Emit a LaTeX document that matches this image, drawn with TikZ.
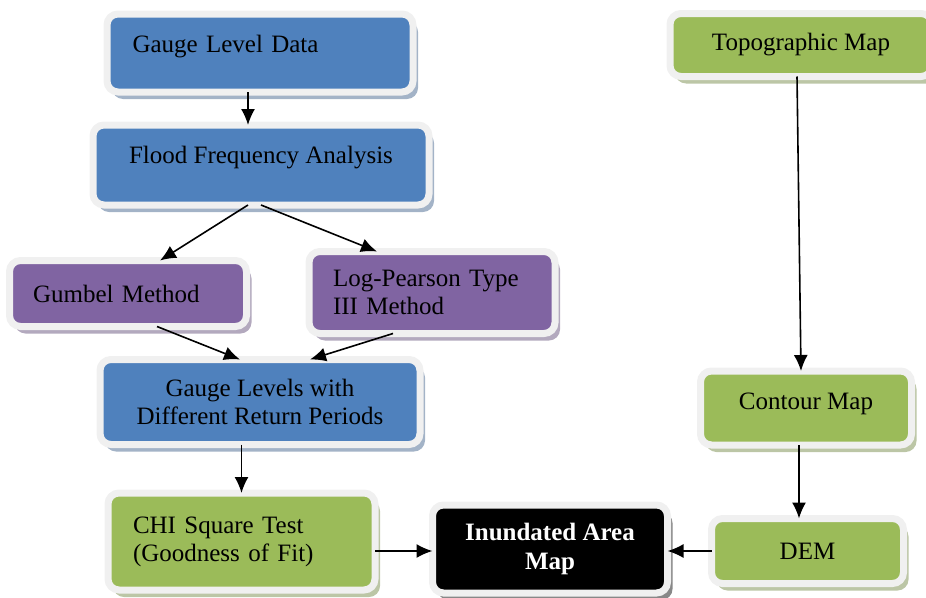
\documentclass[tikz,border=0pt]{standalone}
\usepackage{fontspec}
\setmainfont{Liberation Serif}
\usepackage{tikz}
\usepackage{xcolor}
\usetikzlibrary{arrows.meta,shadows}
\definecolor{bleuBoite}{HTML}{4F81BD}
\definecolor{vertBoite}{HTML}{9BBB59}
\definecolor{violetBoite}{HTML}{8064A2}
\definecolor{bordBoite}{HTML}{F0F0F0}
\tikzset{
Boite/.style={
 rectangle,
 rounded corners=11pt,
 draw=bordBoite,
 line width=7pt,
 fill=#1,
 inner ysep=0pt,
 outer sep=0pt,
 align=center,
 font=\fontsize{25}{28}\selectfont,
 drop shadow={shadow xshift=5pt,shadow yshift=-7pt,fill=#1!55!gray,opacity=0.6}
 },
BoiteGauche/.style={
 align=left,
 inner xsep=#1
 },
Fleche/.style={
 draw=black,
 line width=1.6pt,
 -{Latex[length=16pt,width=14pt]}
 }
}
\begin{document}
\begin{tikzpicture}[x=1pt,y=-1pt]
\useasboundingbox (0,0) rectangle (926,597);
\node[Boite=bleuBoite,BoiteGauche=25.5pt,text width=255pt,minimum width=306pt,minimum height=78pt,text depth=18.5pt] (gld) at (260,53) {Gauge Level Data};
\node[Boite=vertBoite,minimum width=262pt,minimum height=63pt] (topo) at (801,45) {Topographic Map};
\node[Boite=bleuBoite,minimum width=336pt,minimum height=80pt,text depth=20pt] (ffa) at (261,165) {Flood Frequency Analysis};
\node[Boite=violetBoite,BoiteGauche=23.5pt,text width=190pt,minimum width=237pt,minimum height=66pt] (gum) at (128,293.5) {Gumbel Method};
\node[Boite=violetBoite,BoiteGauche=24pt,text width=198pt,minimum width=246pt,minimum height=82pt] (logp) at (432,292.5) {Log-Pearson Type\\III Method};
\node[Boite=bleuBoite,minimum width=320pt,minimum height=85pt] (glr) at (260,402) {Gauge Levels with\\Different Return Periods};
\node[Boite=vertBoite,minimum width=211pt,minimum height=74pt,text depth=13pt] (cont) at (806,408) {Contour Map};
\node[Boite=vertBoite,BoiteGauche=25pt,text width=217pt,minimum width=267pt,minimum height=97pt] (chi) at (241.5,541.5) {CHI Square Test\\(Goodness of Fit)};
\node[Boite=black,text=white,minimum width=235pt,minimum height=88pt,font=\fontsize{25}{29}\selectfont\bfseries] (ina) at (550,549) {Inundated Area\\Map};
\node[Boite=vertBoite,minimum width=192pt,minimum height=65pt] (dem) at (807.5,551) {DEM};
\draw[Fleche] ([xshift=-12pt]gld.south) -- ([xshift=-12pt]gld.south |- ffa.north);
\draw[Fleche] ([xshift=-13pt]ffa.south) -- ([xshift=32pt]gum.north);
\draw[Fleche] (ffa.south) -- ([xshift=-55pt]logp.north);
\draw[Fleche] ([xshift=29pt]gum.south) -- ([xshift=-20pt]glr.north);
\draw[Fleche] ([xshift=-39pt]logp.south) -- ([xshift=50pt]glr.north);
\draw[Fleche] (glr.south -| chi.north) -- (chi.north);
\draw[Fleche] (chi.east |- dem.west) -- (ina.west |- dem.west);
\draw[Fleche] (dem.west) -- (ina.east |- dem.west);
\draw[Fleche] ([xshift=-4pt]topo.south) -- ([xshift=-5pt]cont.north);
\draw[Fleche] ([xshift=-7pt]cont.south) -- ([xshift=-7pt]cont.south |- dem.north);
\end{tikzpicture}
\end{document}
